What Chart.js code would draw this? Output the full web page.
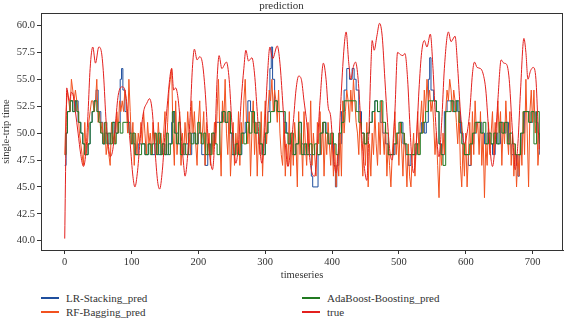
<!DOCTYPE html>
<html>
<head>
<meta charset="utf-8">
<script src="https://cdn.jsdelivr.net/npm/chart.js@4.4.0/dist/chart.umd.min.js"></script>
<style>
  body { margin: 0; background: #fff; }
  #wrap { position: relative; width: 564px; height: 318px; font-family: "Liberation Serif", "DejaVu Serif", serif; }
  #grafica { position: absolute; left: 0; top: 0; }
  .leg { position: absolute; font-size: 11px; line-height: 14px; color: #333; white-space: nowrap; }
  .leg i { position: absolute; left: 0; top: 6px; width: 18px; height: 2px; }
  .leg span { margin-left: 25px; }
</style>
</head>
<body>
<div id="wrap">
  <canvas id="grafica" width="564" height="285"></canvas>
  <div id="leyenda"></div>
</div>
<script>
// Datos
const TICKS_X = [0, 100, 200, 300, 400, 500, 600, 700];
const TICKS_Y = [40, 42.5, 45, 47.5, 50, 52.5, 55, 57.5, 60];

// true (curva real)
const trueX = [0,2,3,5,7,10,13,16,20,24,28,32,35,38,42,46,51,55,58,62,66,68,72,76,80,86,90,94,98,102,105,109,113,118,123,127,131,135,139,142,146,150,154,158,160,163,166,170,174,178,180,184,188,191,194,198,202,206,210,214,218,221,225,228,231,235,242,246,250,253,256,260,264,268,271,275,280,284,288,292,295,299,303,307,311,318,322,326,330,334,338,342,346,350,354,358,362,366,370,374,378,382,387,391,394,398,402,406,410,414,418,421,425,428,432,435,439,443,448,452,455,458,460,463,467,471,475,479,483,487,490,494,498,502,506,509,513,517,520,522,526,530,534,538,542,547,551,555,558,560,564,568,574,578,584,588,592,596,598,602,606,610,613,617,622,626,630,634,638,640,644,648,653,657,661,665,669,672,674,678,682,687,690,693,697,701,705,708,710];
const trueY = [40.2,50,54.2,53.5,53.0,53.8,53.4,52,50,48,46.9,48.5,52,56,58.0,56.5,58.0,57.5,55.5,51,48.5,47.8,48.5,51,53.5,54.3,54.0,52,49,46,45.0,46.5,49.5,52,52.8,53.2,52,48.5,45.5,44.8,46.5,50,53,55.5,56.0,54.0,54.2,53,50,47,46.0,48,52,56,57.8,56.8,57.1,56.5,54,50,47.5,46.6,50,55,57.2,56.0,56.6,55,51,48.5,47.2,49,53,56,57.7,56.7,57.0,55.5,52,48.5,47.2,50,55,58.0,56.9,58.1,56.5,53,49,46.9,48.5,51,54,55.3,55.0,53,51,48,46.3,46.0,49,53,56.5,55,52.5,51.5,48,46.3,49,54,58,59.4,56.5,55,56.2,56.6,55,51,47,45.6,50,56,58.6,57.7,59.0,60.2,59.0,55,51,48,47.5,52,57.5,57.3,57.2,57.4,55,50,47,46.3,49,54,57.5,58.6,58.0,59.2,56,51,48.5,47.8,51,56,59.4,58.5,59.0,56,52,49.5,49.0,50,52,55.5,56.6,56.1,56.0,55.5,54,50.5,47.5,46.9,49,53,56.8,56.5,56.4,55,51,48,46.6,49,54,58.8,57.5,55.0,55.8,56.1,55,51,48.5];

// AdaBoost-Boosting_pred (escalones)
const adaX = [0,2,4,8,12,15,18,21,24,27,30,35,38,41,44,48,51,54,57,60,63,65,68,71,74,77,80,83,87,92,96,99,102,105,110,115,120,125,128,131,134,137,140,143,146,149,152,155,158,161,164,167,170,173,177,181,185,189,193,196,199,202,205,208,211,214,217,220,224,228,232,236,240,244,248,252,256,260,264,268,272,276,280,284,288,292,296,300,304,308,314,318,326,330,334,338,342,346,350,354,358,362,366,370,374,378,382,386,390,394,398,402,406,410,414,418,424,430,436,440,444,448,452,456,460,464,468,472,476,480,484,488,492,496,500,504,508,512,516,520,524,528,532,536,540,544,548,552,556,560,563,566,570,574,578,582,586,590,594,598,602,606,610,614,618,622,626,630,634,638,642,646,650,654,658,662,666,670,674,678,682,686,690,694,698,702,706,710];
const adaY = [48,50,52,53,52,53,52,51,50,49,48,49,51,52,53,52,51,50,49,51,49,50,49,51,49,50,51,50,51,51,50,49,50,48,48,49,48,49,48,49,50,48,50,48,49,48,50,48,49,52,50,49,51,48,49,48,50,49,50,49,51,50,49,50,48,49,48,50,49,48,51,52,51,52,50,48,49,48,50,49,51,50,52,50,51,49,48,50,51,52,53,52,52,50,49,50,48,49,51,48,49,48,49,48,49,48,50,51,50,49,50,49,48,50,51,53,53,53,52,51,50,49,50,51,52,53,52,53,51,50,48,48,49,50,51,50,49,48,48,48,49,48,50,51,52,53,53,53,52,49,48,47,52,52,53,52,53,51,49,48,48,49,50,51,51,50,51,49,50,49,50,49,51,50,51,49,50,49,48,48,50,52,52,51,52,49,52,49];

// LR-Stacking_pred (escalones)
const lrX = [0,2,4,8,12,16,20,24,27,30,35,38,41,44,47,50,54,57,60,64,68,72,76,80,83,85,87,90,94,98,102,106,110,115,120,125,130,135,140,145,150,155,160,163,166,170,175,180,185,190,195,200,205,210,214,218,222,226,230,235,240,245,250,255,260,265,270,274,278,282,286,290,295,300,304,307,309,311,314,318,324,328,332,336,340,345,350,354,358,362,366,369,371,376,379,383,387,391,395,399,402,405,407,410,414,418,422,426,430,433,436,440,444,448,452,456,460,464,468,472,476,480,484,490,494,498,502,506,510,514,518,522,526,530,534,538,541,544,546,548,552,556,560,564,568,572,576,580,584,588,592,596,600,604,608,612,616,620,624,628,632,636,640,644,648,652,656,660,664,668,672,676,678,680,684,688,692,696,700,704,708,710];
const lrY = [47,50,52,53,52,53,51,50,49,48,49,51,52,53,54,52,51,49,50,49,50,51,50,51,55,56,54,52,51,50,49,48,49,49,48,49,48,49,48,49,48,49,51,52,50,49,48,49,48,50,49,50,48,47,48,49,50,51,51,52,51,50,48,49,48,50,51,53,52,51,50,49,48,50,52,56,58,55,53,52,52,51,50,49,48,49,51,49,48,49,48,46,45,45,48,50,51,50,49,49,47,45,47,49,52,54,56,55,56,55,54,52,50,49,50,51,52,53,52,51,50,49,48,48,49,50,51,49,48,47,48,48,49,50,51,50,51,55,57,54,53,52,49,48,52,53,53,52,53,52,50,48,48,47,49,50,51,51,50,49,50,49,48,50,49,51,50,51,49,48,48,47,46,48,50,52,52,51,52,51,50,48];

// RF-Bagging_pred: un valor cada 2 pasos de tiempo (0, 2, 4, ... 710)
const RF_PASO = 2;
const rfY = [
  48,52,54,53,52,55,54,53,54,53,
  52,50,49,48,47,51,48,49,51,52,
  53,53,52,53,55,51,52,50,51,49,
  51,48,49,48,47,51,49,50,49,52,
  50,53,52,53,52,54,53,50,55,52,
  49,51,47,50,48,50,49,51,49,52,
  50,48,51,49,50,48,51,49,50,48,
  51,49,50,48,50,52,48,51,54,55,
  56,50,47,53,48,50,52,47,50,48,
  51,49,52,50,48,53,50,52,49,47,
  51,53,49,50,52,47,51,48,50,47,
  50,48,51,49,52,55,50,46,53,51,
  55,50,48,52,46,49,51,47,50,48,
  52,47,51,49,53,55,51,49,52,46,
  50,53,48,51,46,50,48,52,46,50,
  53,49,52,54,53,55,52,54,53,51,
  54,50,48,47,51,46,49,47,52,46,
  50,47,51,49,45,52,48,50,46,52,
  49,47,51,48,53,47,50,48,46,51,
  49,52,48,51,46,50,48,51,49,47,
  50,46,49,45,48,46,50,46,53,50,
  52,54,53,51,54,52,55,53,51,50,
  48,52,49,46,50,47,51,45,49,46,
  50,48,52,49,47,51,48,53,50,48,
  51,46,49,47,45,48,50,52,48,50,
  47,51,49,46,50,48,45,49,46,45,
  48,50,46,49,52,48,51,53,50,54,
  52,55,53,54,52,53,51,48,50,47,
  44,49,47,50,48,52,54,53,55,54,
  52,54,53,51,49,52,47,45,49,46,
  50,45,48,51,47,52,48,53,50,51,
  48,52,47,50,44,49,47,51,48,50,
  52,48,51,49,53,50,52,47,51,49,
  53,50,48,52,47,50,46,49,45,48,
  46,50,47,52,48,55,50,45,52,54,
  51,54,50,52,47,49
];

const COLORES = { lr: '#1f4f9e', rf: '#f2521f', ada: '#217a21', real: '#e3201e' };
const FUENTE = '"Liberation Serif", "DejaVu Serif", serif';
const TEXTO = '#333';

const puntos = (xs, ys) => ys.map((y, i) => ({ x: xs[i], y: y }));
const rfPuntos = rfY.map((y, i) => ({ x: i * RF_PASO, y: y }));

// marco completo alrededor del area de la grafica (estilo matplotlib)
const marco = {
  id: 'marco',
  afterDatasetsDraw(chart) {
    const { ctx, chartArea: a } = chart;
    ctx.save();
    ctx.strokeStyle = TEXTO;
    ctx.lineWidth = 1;
    ctx.strokeRect(Math.round(a.left) + 0.5, Math.round(a.top) + 0.5, Math.round(a.right - a.left) - 1, Math.round(a.bottom - a.top));
    ctx.restore();
  }
};

const serie = (label, data, color, extra) => Object.assign({
  label, data, borderColor: color, backgroundColor: color,
  borderWidth: 1, pointRadius: 0, fill: false
}, extra);

new Chart(document.getElementById('grafica').getContext('2d'), {
  type: 'line',
  data: {
    datasets: [
      serie('LR-Stacking_pred', puntos(lrX, lrY), COLORES.lr, { stepped: true, order: 4 }),
      serie('RF-Bagging_pred', rfPuntos, COLORES.rf, { order: 3 }),
      serie('AdaBoost-Boosting_pred', puntos(adaX, adaY), COLORES.ada, { stepped: true, order: 2 }),
      serie('true', puntos(trueX, trueY), COLORES.real, { cubicInterpolationMode: 'monotone', order: 1 })
    ]
  },
  options: {
    responsive: false,
    animation: false,
    layout: { padding: { left: 0, right: 1, top: 0, bottom: 0 } },
    plugins: {
      legend: { display: false },
      tooltip: { enabled: false },
      title: {
        display: true, text: 'prediction', color: TEXTO,
        font: { family: FUENTE, size: 11, weight: 'normal' },
        padding: { top: 0, bottom: 0 }
      }
    },
    scales: {
      x: {
        type: 'linear', min: -35.5, max: 745.5,
        afterBuildTicks: s => { s.ticks = TICKS_X.map(v => ({ value: v })); },
        afterFit: s => { s.height = 35; },
        grid: { drawOnChartArea: false, drawTicks: true, tickLength: 4, color: TEXTO },
        border: { color: TEXTO },
        ticks: { color: TEXTO, font: { family: FUENTE, size: 10.5 }, padding: 2, maxRotation: 0, autoSkip: false },
        title: { display: true, text: 'timeseries', color: TEXTO, font: { family: FUENTE, size: 10.5 }, padding: { top: 0, bottom: 3 } }
      },
      y: {
        type: 'linear', min: 39.14, max: 61.14,
        afterBuildTicks: s => { s.ticks = TICKS_Y.map(v => ({ value: v })); },
        afterFit: s => { s.width = 41; },
        grid: { drawOnChartArea: false, drawTicks: true, tickLength: 4, color: TEXTO },
        border: { color: TEXTO },
        ticks: { color: TEXTO, font: { family: FUENTE, size: 10.5 }, padding: 2, callback: v => v.toFixed(1) },
        title: { display: true, text: 'single-trip time', color: TEXTO, font: { family: FUENTE, size: 10.5 }, padding: { top: 0, bottom: 0 } }
      }
    }
  },
  plugins: [marco]
});

// Leyenda en dos columnas debajo de la grafica
const LEYENDA = [
  { texto: 'LR-Stacking_pred', color: COLORES.lr, x: 41, y: 291 },
  { texto: 'RF-Bagging_pred', color: COLORES.rf, x: 41, y: 305 },
  { texto: 'AdaBoost-Boosting_pred', color: COLORES.ada, x: 302, y: 291 },
  { texto: 'true', color: COLORES.real, x: 302, y: 305 }
];
const leyendaEl = document.getElementById('leyenda');
LEYENDA.forEach(item => {
  const d = document.createElement('div');
  d.className = 'leg';
  d.style.left = item.x + 'px';
  d.style.top = item.y + 'px';
  const linea = document.createElement('i');
  linea.style.backgroundColor = item.color;
  const texto = document.createElement('span');
  texto.textContent = item.texto;
  d.appendChild(linea);
  d.appendChild(texto);
  leyendaEl.appendChild(d);
});
</script>
</body>
</html>
